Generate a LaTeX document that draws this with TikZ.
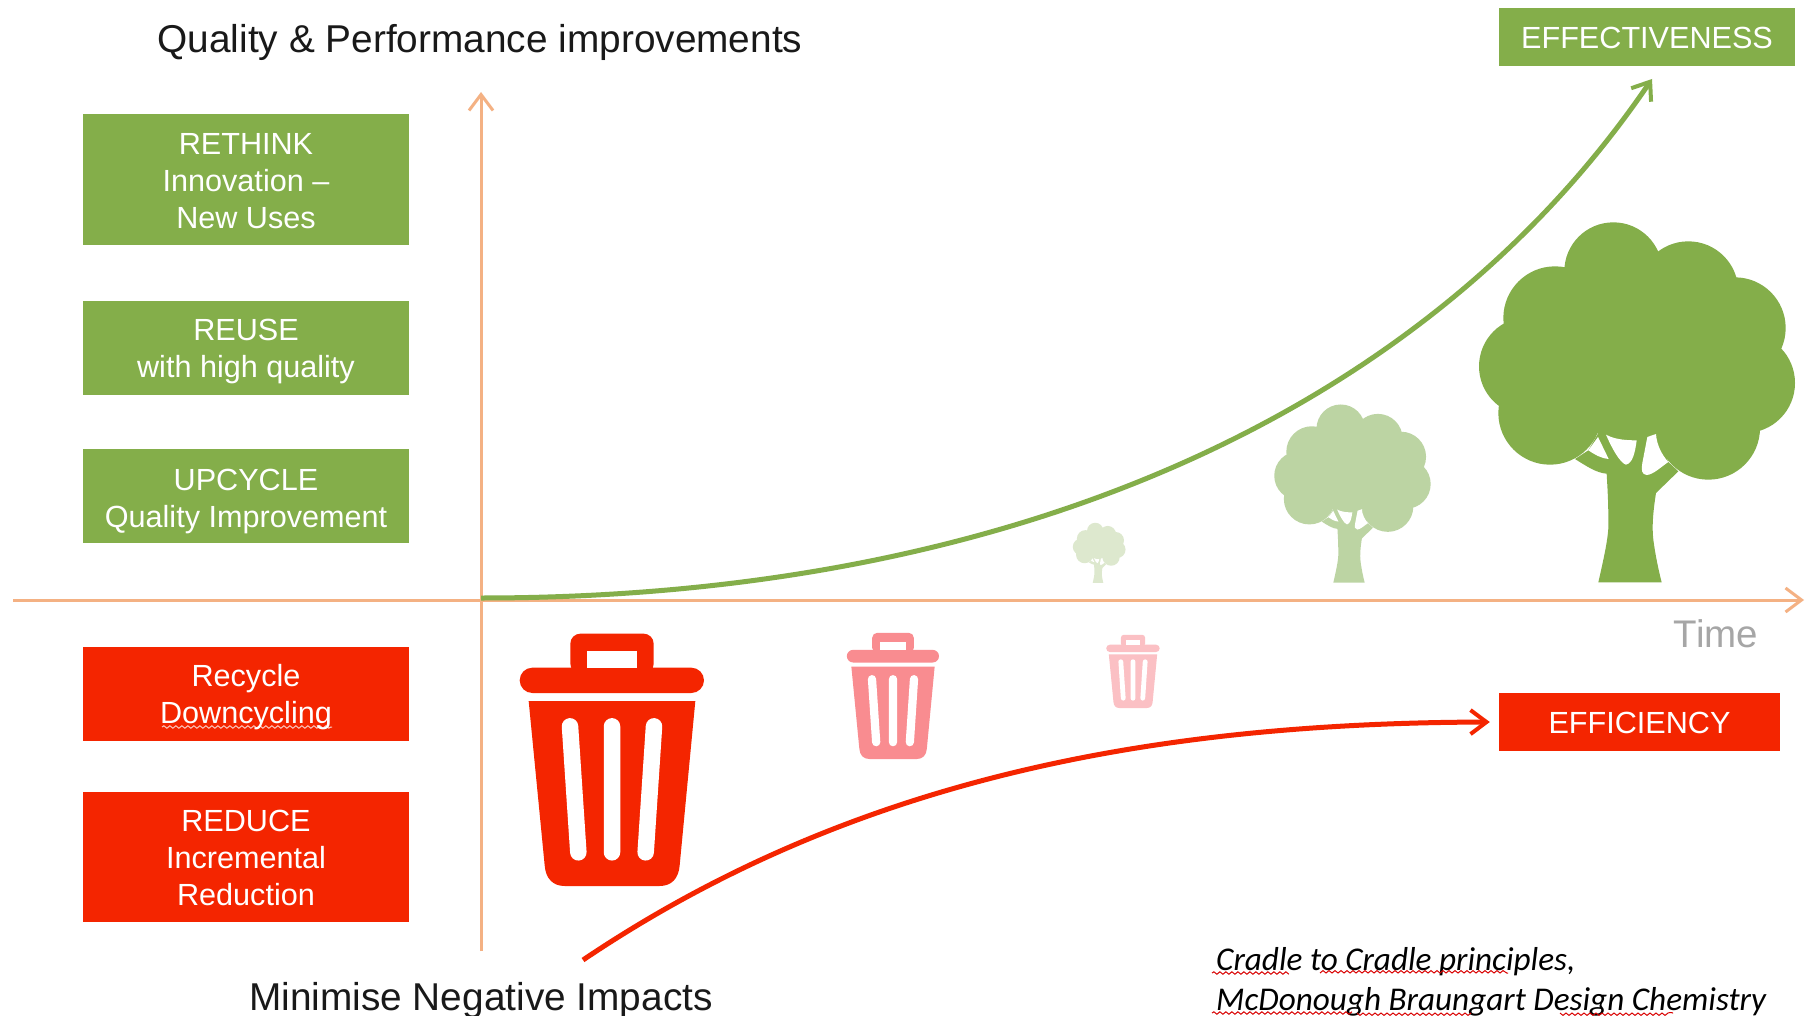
\documentclass[tikz,border=0pt]{standalone}
\usepackage{fontspec}
\setmainfont{Liberation Sans}
\newfontfamily\calfont{Carlito}
\usetikzlibrary{arrows.meta,decorations.pathmorphing}
\definecolor{cgreen}{HTML}{84AE4A}
\definecolor{cgreenmid}{HTML}{BCD4A3}
\definecolor{cgreenlow}{HTML}{DDE8CE}
\definecolor{cred}{HTML}{F42500}
\definecolor{credmid}{HTML}{F98C90}
\definecolor{credlow}{HTML}{FBC0C4}
\definecolor{caxis}{HTML}{F4B183}
\tikzset{
  box/.style={rectangle,inner sep=0pt,anchor=center},
  gbox/.style={box,fill=cgreen},
  rbox/.style={box,fill=cred},
  lbl/.style={inner sep=0pt,text=white,align=center,font=\fontsize{30.6}{37}\selectfont},
  axisline/.style={draw=caxis,line width=3pt,-{Straight Barb[length=16pt,width=24pt,line width=3pt]}},
  growline/.style={line width=5pt,-{Straight Barb[length=16pt,width=24pt,line width=4pt]}},
  head/.style={font=\fontsize{38.8}{44}\selectfont,text=black!90,inner sep=0pt},
  wavy/.style={draw=red!85!black,line width=1pt,decorate,decoration={snake,amplitude=1.2pt,segment length=6pt}},
  note/.style={font=\calfont\itshape\fontsize{33.2}{40}\selectfont,text=black,inner sep=0pt,align=left}
}
% #1 scale, #2 base x, #3 base y, #4 colour
\newcommand{\mytree}[4]{%
\begin{scope}[shift={(#2,#3)},scale=#1/3,shift={(-570,-1150)}]
  \fill[#4] (520,215) circle[radius=147] (745,275) circle[radius=150] (885,385) circle[radius=152]
    (915,550) circle[radius=150] (805,685) circle[radius=155] (330,640) circle[radius=155]
    (265,500) circle[radius=148] (345,355) circle[radius=155];
  \fill[#4] (350,300) -- (800,300) -- (850,600) -- (650,705) -- (480,705) -- (300,600) -- cycle;
  \fill[#4] (475,1148) .. controls (495,1060) and (508,1000) .. (505,960) .. controls (505,900) and (502,860) .. (500,822)
    .. controls (470,820) and (440,800) .. (405,778) -- (445,752) -- (475,700) -- (650,700) -- (685,787) -- (715,815)
    -- (648,880) .. controls (640,930) and (635,980) .. (640,1020) .. controls (645,1060) and (655,1110) .. (665,1148) -- cycle;
  \fill[white] (445,752) -- (474,712) -- (506,778) .. controls (480,775) and (465,765) .. (445,752) -- cycle;
  \fill[white] (498,705) .. controls (525,720) and (560,722) .. (590,722) .. controls (585,760) and (578,790) .. (558,795) .. controls (540,790) and (515,745) .. (498,705) -- cycle;
  \fill[white] (622,712) -- (648,703) .. controls (650,735) and (665,765) .. (685,787) .. controls (665,800) and (640,825) .. (620,826) .. controls (605,825) and (603,810) .. (607,790) -- cycle;
\end{scope}}
% #1 scale, #2 centre x, #3 bottom y, #4 colour
\newcommand{\mybin}[4]{%
\begin{scope}[shift={(#2,#3)},scale=#1/3,shift={(-337,-797)}]
  \pgfmathsetlengthmacro{\slatw}{#1*16.5pt}
  \fill[#4,rounded corners=#1*12.7pt] (60,142) rectangle (613,218);
  \fill[#4,rounded corners=#1*10pt] (212,160) -- (212,40) -- (462,40) -- (462,160) -- cycle;
  \fill[white] (261,92) rectangle (413,142);
  \fill[#4] (87,242) -- (587,242) -- (540,735) .. controls (537,775) and (515,797) .. (480,797) -- (195,797) .. controls (160,797) and (138,775) .. (135,735) -- cycle;
  \draw[white,line width=\slatw,line cap=round] (211,318) -- (236,696) (337,318) -- (337,696) (463,318) -- (438,696);
\end{scope}}
\begin{document}
\begin{tikzpicture}[x=1pt,y=-1pt]
\useasboundingbox[fill=white] (0,0) rectangle (1805,1016);
% axes
\coordinate (hstart) at (13,600);
\coordinate (hend) at (1804,600);
\coordinate (vstart) at (481,951);
\coordinate (vend) at (481,92);
\draw[axisline] (hstart) -- (hend);
\draw[axisline] (vstart) -- (vend);
% icons
\mytree{1}{1630}{583}{cgreen}
\mytree{0.495}{1349}{583}{cgreenmid}
\mytree{0.167}{1098}{583}{cgreenlow}
\mybin{1}{612}{886}{cred}
\mybin{0.5}{893}{759}{credmid}
\mybin{0.29}{1133}{708}{credlow}
% boxes
\node[gbox,minimum width=326pt,minimum height=131pt,label={[lbl,yshift=-1pt]center:{RETHINK\\Innovation –\\New Uses}}] (rethink) at (246,180) {};
\node[gbox,minimum width=326pt,minimum height=94pt,label={[lbl,yshift=-3.5pt]center:{REUSE\\with high quality}}] (reuse) at (246,348) {};
\node[gbox,minimum width=326pt,minimum height=94pt,label={[lbl,yshift=-5.5pt]center:{UPCYCLE\\Quality Improvement}}] (upcycle) at (246,496) {};
\node[rbox,minimum width=326pt,minimum height=94pt,label={[lbl,yshift=-3pt]center:{Recycle\\Downcycling}}] (recycle) at (246,694) {};
\node[rbox,minimum width=326pt,minimum height=130pt,label={[lbl,yshift=-1pt]center:{REDUCE\\Incremental\\Reduction}}] (reduce) at (246,857) {};
\node[gbox,minimum width=296pt,minimum height=58pt,label={[lbl,yshift=-1pt]center:EFFECTIVENESS}] (effect) at (1647,37) {};
\node[rbox,minimum width=281pt,minimum height=58pt,label={[lbl,yshift=-1pt]center:EFFICIENCY}] (effic) at (1639.5,722) {};
\draw[wavy,draw=white,draw opacity=.75] (162,727) -- (332,727);
% curves
\coordinate (gstart) at (481,598);
\coordinate (gend) at (1652,79);
\coordinate (rstart) at (583,960);
\draw[growline,draw=cgreen] (gstart) .. controls (1000,598) and (1420,420) .. (gend);
\draw[growline,draw=cred,shorten >=9pt] (rstart) .. controls (850,780) and (1150,723) .. (effic.west);
% labels
\node[head,anchor=center] (top) at (480,42.5) {Quality \& Performance improvements};
\node[head,anchor=center] (bottom) at (481,1000) {Minimise Negative Impacts};
\node[font=\fontsize{38.5}{44}\selectfont,text=black!35,inner sep=0pt] (time) at (1716,634) {Time};
\node[note,anchor=base west] (n1) at (1216,970) {Cradle to Cradle principles,};
\node[note,anchor=base west] (n2) at (1216,1010) {McDonough Braungart Design Chemistry};
\draw[wavy] (1212,973) -- (1287,973) (1320,973) -- (1508,973);
\draw[wavy] (1212,1013) -- (1350,1013) (1357,1013) -- (1470,1013) (1560,1013) -- (1673,1013);
\end{tikzpicture}
\end{document}
